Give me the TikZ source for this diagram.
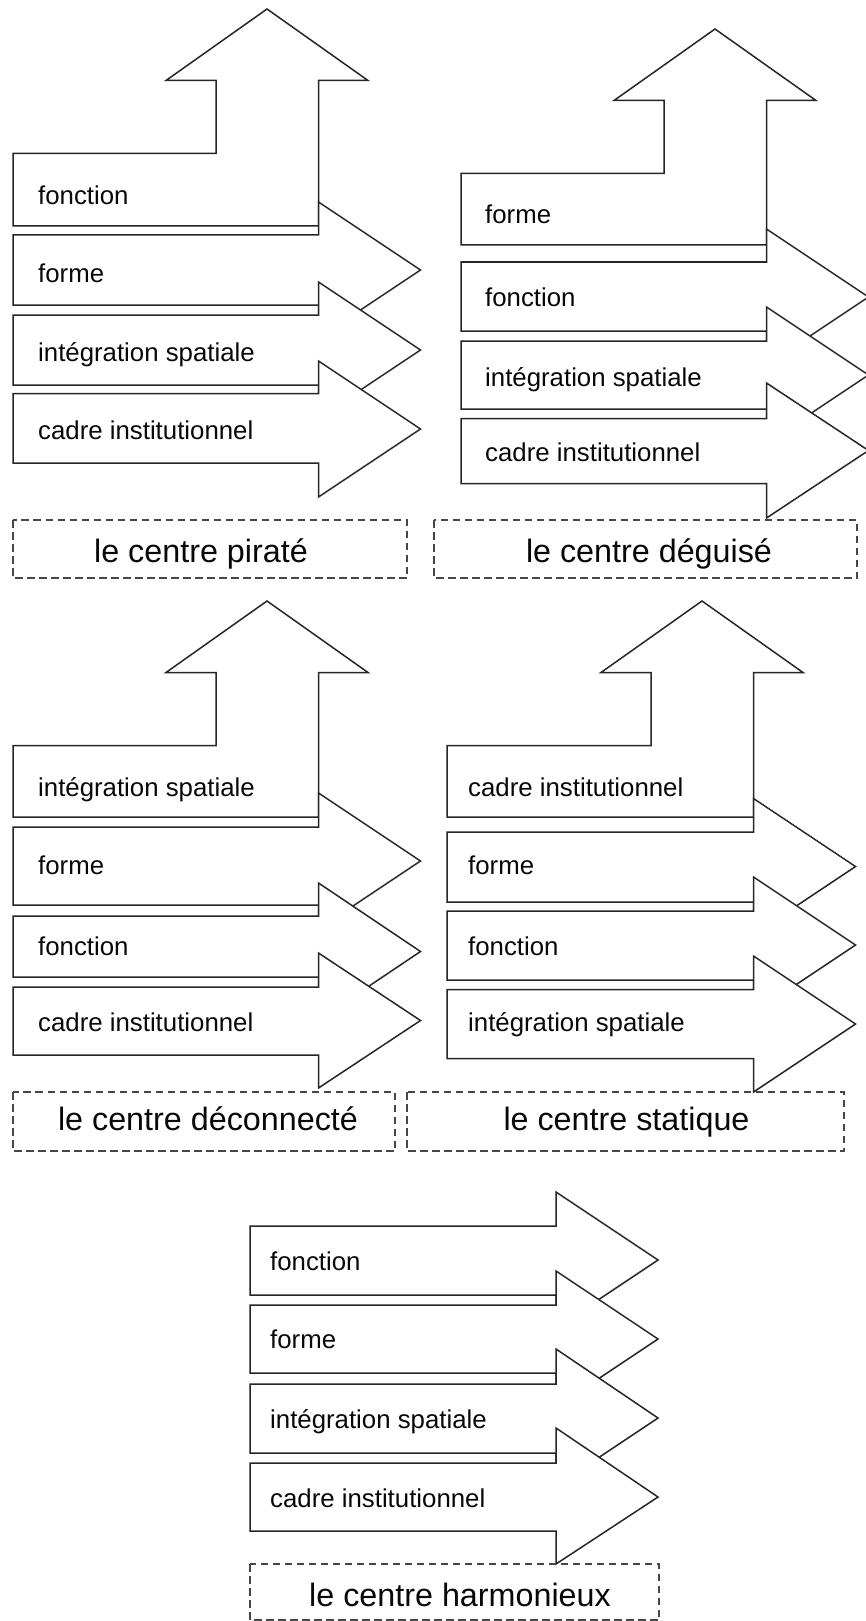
\documentclass[tikz,border=0pt]{standalone}
\usepackage{fontspec}
\setmainfont{Liberation Sans}
\definecolor{lc}{gray}{0.15}
\definecolor{dc}{gray}{0.28}
\definecolor{tc}{gray}{0.03}
\newcommand\UpShape[4]{% tipx, tipy, left, bottom
  \draw[shp] (#3,#2+144.5) -- (#1-51,#2+144.5) -- (#1-51,#2+71.5) -- (#1-101,#2+71.5)
    -- (#1,#2) -- (#1+101,#2+71.5) -- (#1+51.5,#2+71.5) -- (#1+51.5,#4) -- (#3,#4) -- cycle;}
\newcommand\RShape[7]{% left, base, shaft top, shaft bottom, head top, tip y, head bottom
  \draw[shp] (#1,#3) -- (#2,#3) -- (#2,#5) -- (#2+102,#6) -- (#2,#7) -- (#2,#4) -- (#1,#4) -- cycle;}
\begin{document}
\begin{tikzpicture}[x=1pt,y=-1pt,
  shp/.style={draw=lc, line width=1.5pt, fill=white, line join=miter},
  lbl/.style={anchor=base west, inner sep=0pt, font=\fontsize{25.8}{30}\selectfont, text=tc},
  ttl/.style={anchor=base, inner sep=0pt, font=\fontsize{32.3}{38}\selectfont, text=tc},
  dbox/.style={draw=dc, line width=1.3pt, dash pattern=on 7.5pt off 4.5pt}]
\useasboundingbox (0,0) rectangle (865,1621);
\fill[white] (0,0) rectangle (865,1621);

% ---- panel 1 : le centre pirate
\UpShape{267}{9}{13}{226}
\RShape{13}{318.5}{235}{305}{202}{270}{338}
\RShape{13}{318.5}{315}{385}{282}{350}{418}
\RShape{13}{318.5}{393.5}{463}{361}{429}{497}
\node[lbl] (p1a) at (38,205) {fonction};
\node[lbl] (p1b) at (38,283) {forme};
\node[lbl] (p1c) at (38,361.5) {intégration spatiale};
\node[lbl] (p1d) at (38,439.5) {cadre institutionnel};
\draw[dbox] (13,520) rectangle (407,578);
\node[ttl] (t1) at (201,562) {le centre piraté};

% ---- panel 2 : le centre deguise
\UpShape{715}{29}{461}{245}
\RShape{461}{766.5}{262}{331}{229}{297}{365}
\RShape{461}{766.5}{341}{409}{307}{375}{443}
\RShape{461}{766.5}{418.5}{483.5}{383}{450.5}{518}
\node[lbl] (p2a) at (485,224) {forme};
\node[lbl] (p2b) at (485,306.5) {fonction};
\node[lbl] (p2c) at (485,386) {intégration spatiale};
\node[lbl] (p2d) at (485,461) {cadre institutionnel};
\draw[dbox] (434,520) rectangle (857,578);
\node[ttl] (t2) at (649,562) {le centre déguisé};

% ---- panel 3 : le centre deconnecte
\UpShape{267}{601}{13}{817}
\RShape{13}{318.5}{827}{905}{793}{861}{929}
\RShape{13}{318.5}{916}{977}{883}{951.5}{1020}
\RShape{13}{318.5}{987}{1055}{953}{1020.5}{1088}
\node[lbl] (p3a) at (38,796) {intégration spatiale};
\node[lbl] (p3b) at (38,874.5) {forme};
\node[lbl] (p3c) at (38,955) {fonction};
\node[lbl] (p3d) at (38,1031.5) {cadre institutionnel};
\draw[dbox] (13,1092) rectangle (395,1151);
\node[ttl] (t3) at (208,1130.6) {le centre déconnecté};

% ---- panel 4 : le centre statique
\UpShape{702}{601}{447}{817}
\RShape{447}{753.5}{832}{902}{798.5}{866.5}{934.5}
\RShape{447}{753.5}{911}{980}{877}{945}{1013}
\RShape{447}{753.5}{989.5}{1058.5}{956}{1024}{1092}
\node[lbl] (p4a) at (468,796) {cadre institutionnel};
\node[lbl] (p4b) at (468,874.5) {forme};
\node[lbl] (p4c) at (468,955) {fonction};
\node[lbl] (p4d) at (468,1031.5) {intégration spatiale};
\draw[dbox] (407,1092) rectangle (844,1151);
\node[ttl] (t4) at (626.5,1130.6) {le centre statique};

% ---- panel 5 : le centre harmonieux
\RShape{250}{556}{1226}{1295}{1192}{1260}{1328}
\RShape{250}{556}{1305}{1373}{1271}{1339}{1407}
\RShape{250}{556}{1384}{1453}{1349}{1418}{1486}
\RShape{250}{556}{1463}{1531}{1428}{1497}{1564}
\node[lbl] (p5a) at (270,1270) {fonction};
\node[lbl] (p5b) at (270,1348) {forme};
\node[lbl] (p5c) at (270,1428) {intégration spatiale};
\node[lbl] (p5d) at (270,1507) {cadre institutionnel};
\draw[dbox] (250,1564) rectangle (659,1620);
\node[ttl] (t5) at (460,1606) {le centre harmonieux};
\end{tikzpicture}
\end{document}
